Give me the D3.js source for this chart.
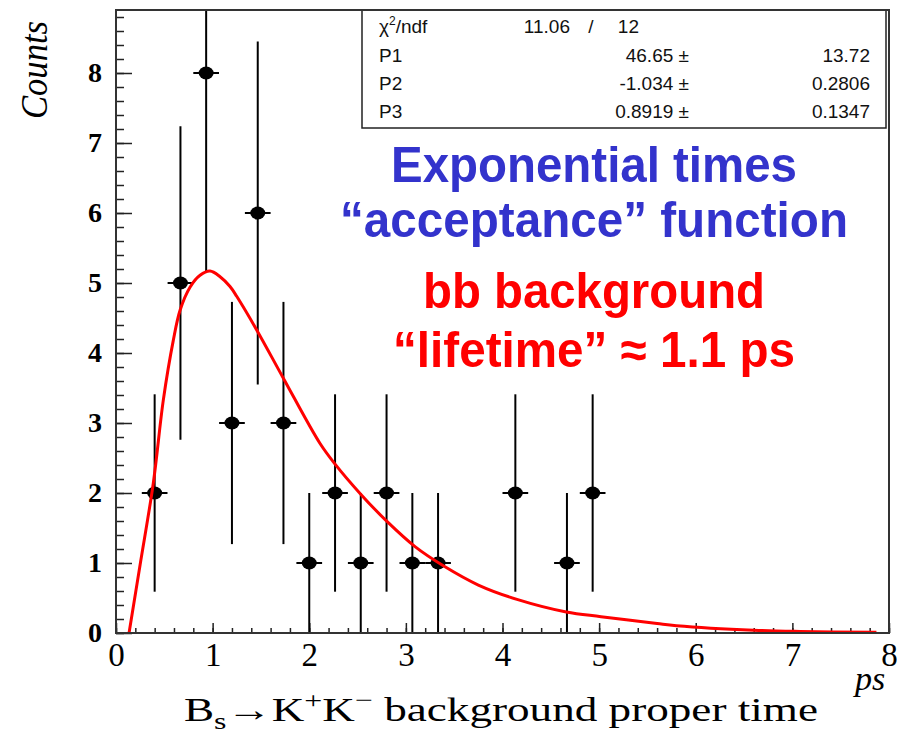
<!DOCTYPE html>
<html>
<head>
<meta charset="utf-8">
<script src="https://cdn.jsdelivr.net/npm/d3@7"></script>
<style>
  html, body { margin: 0; padding: 0; background: #fff; }
</style>
</head>
<body>
<div id="app"></div>
<script>
// DATA
const binCenters  = [0.4, 0.667, 0.933, 1.2, 1.467, 1.733, 2.0, 2.267, 2.533, 2.8, 3.067, 3.333, 4.133, 4.667, 4.933];
const counts      = [2, 5, 8, 3, 6, 3, 1, 2, 1, 2, 1, 1, 2, 1, 2];
const countErrors = [1.41, 2.24, 2.83, 1.73, 2.45, 1.73, 1, 1.41, 1, 1.41, 1, 1, 1.41, 1, 1.41];
const binHalfWidths = [0.133, 0.133, 0.133, 0.133, 0.133, 0.133, 0.133, 0.133, 0.133, 0.133, 0.133, 0.133, 0.133, 0.133, 0.133];

// fit curve
const fitT = [0.135, 0.25, 0.386, 0.49, 0.593, 0.663, 0.766, 0.87, 0.973, 1.077, 1.18, 1.249, 1.456, 1.732, 2.11, 2.263, 2.535, 2.807, 3.098, 3.388, 3.75, 4.15, 4.66, 5.02, 5.6, 5.8, 6.6, 7.08, 7.87];
const fitY = [0, 0.98, 2.14, 3.33, 4.18, 4.61, 4.94, 5.11, 5.17, 5.09, 4.95, 4.81, 4.33, 3.64, 2.71, 2.42, 1.98, 1.59, 1.23, 0.96, 0.685, 0.48, 0.30, 0.233, 0.135, 0.105, 0.04, 0.022, 0.009];

const xTicks = [0, 1, 2, 3, 4, 5, 6, 7, 8];
const yTicks = [0, 1, 2, 3, 4, 5, 6, 7, 8];

const statsRows = [
  { name: 'P1', value: '46.65 \u00b1', error: '13.72' },
  { name: 'P2', value: '-1.034 \u00b1', error: '0.2806' },
  { name: 'P3', value: '0.8919 \u00b1', error: '0.1347' },
];
const chi2 = '11.06', ndf = '12';

// LAYOUT
const W = 897, H = 733;
const frame = { left: 116, right: 889, top: 10, bottom: 633 };

const x = d3.scaleLinear().domain([0, 8]).range([frame.left, frame.right]);
const y = d3.scaleLinear().domain([0, 8.9]).range([frame.bottom, frame.top]);

const $svg = d3.select('#app')
  .append('svg')
  .attr('width', W)
  .attr('height', H)
  .style('font-family', '"Liberation Serif", "Times New Roman", serif');

$svg.append('defs').append('clipPath').attr('id', 'plotClip')
  .append('rect')
  .attr('x', frame.left).attr('y', frame.top)
  .attr('width', frame.right - frame.left)
  .attr('height', frame.bottom - frame.top);

// minor ticks (no labels)
const xMinor = d3.range(0, 8.001, 0.2);
const yMinor = d3.range(0, 8.9, 0.2);

$svg.append('g')
  .attr('transform', `translate(0,${frame.bottom})`)
  .call(d3.axisBottom(x).tickValues(xMinor).tickSize(-5).tickFormat(''))
  .call(g => g.select('.domain').remove())
  .selectAll('line').attr('stroke', '#222').attr('stroke-width', 1.5);

$svg.append('g')
  .attr('transform', `translate(0,${frame.bottom})`)
  .call(d3.axisBottom(x).tickValues(xTicks).tickSize(-10).tickPadding(10).tickFormat(d3.format('d')))
  .call(g => g.select('.domain').remove())
  .call(g => g.selectAll('line').attr('stroke', '#222').attr('stroke-width', 1.5))
  .call(g => g.selectAll('text')
    .attr('font-family', '"Liberation Serif", serif')
    .attr('font-size', 33)
    .attr('fill', '#000'));

$svg.append('g')
  .attr('transform', `translate(${frame.left},0)`)
  .call(d3.axisLeft(y).tickValues(yMinor).tickSize(-8).tickFormat(''))
  .call(g => g.select('.domain').remove())
  .selectAll('line').attr('stroke', '#222').attr('stroke-width', 1.5);

$svg.append('g')
  .attr('transform', `translate(${frame.left},0)`)
  .call(d3.axisLeft(y).tickValues(yTicks).tickSize(-16).tickPadding(14).tickFormat(d3.format('d')))
  .call(g => g.select('.domain').remove())
  .call(g => g.selectAll('line').attr('stroke', '#222').attr('stroke-width', 1.5))
  .call(g => g.selectAll('text')
    .attr('font-family', '"Liberation Serif", serif')
    .attr('font-weight', 'bold')
    .attr('font-size', 28)
    .attr('fill', '#000'));

// stats box
const box = { left: 362, right: 886, top: frame.top, bottom: 128 };
$svg.append('rect')
  .attr('x', box.left).attr('y', box.top)
  .attr('width', box.right - box.left).attr('height', box.bottom - box.top)
  .attr('fill', '#fff').attr('stroke', '#222').attr('stroke-width', 1.5);

const $stats = $svg.append('g')
  .style('font-family', '"Liberation Sans", Arial, sans-serif')
  .style('font-size', '19px')
  .attr('fill', '#111');

const chiRow = $stats.append('text').attr('x', 379).attr('y', 33);
chiRow.append('tspan').text('\u03c7');
chiRow.append('tspan').attr('dy', -8).attr('font-size', 12).text('2');
chiRow.append('tspan').attr('dy', 8).text('/ndf');
$stats.append('text').attr('x', 570).attr('y', 33).attr('text-anchor', 'end').text(chi2);
$stats.append('text').attr('x', 591).attr('y', 33).attr('text-anchor', 'middle').text('/');
$stats.append('text').attr('x', 639).attr('y', 33).attr('text-anchor', 'end').text(ndf);

statsRows.forEach((row, i) => {
  const yy = 61.7 + i * 28.2;
  $stats.append('text').attr('x', 379).attr('y', yy).text(row.name);
  $stats.append('text').attr('x', 689).attr('y', yy).attr('text-anchor', 'end').text(row.value);
  $stats.append('text').attr('x', 870).attr('y', yy).attr('text-anchor', 'end').text(row.error);
});

// data points with error bars
const points = binCenters.map((c, i) => ({ x: c, y: counts[i], ey: countErrors[i], ex: binHalfWidths[i] }));
const $pts = $svg.append('g').attr('clip-path', 'url(#plotClip)');

$pts.selectAll('line.ey')
  .data(points).enter().append('line')
  .attr('class', 'ey')
  .attr('x1', d => x(d.x)).attr('x2', d => x(d.x))
  .attr('y1', d => y(Math.max(0, d.y - d.ey))).attr('y2', d => y(d.y + d.ey))
  .attr('stroke', '#000').attr('stroke-width', 2);

$pts.selectAll('line.ex')
  .data(points).enter().append('line')
  .attr('class', 'ex')
  .attr('x1', d => x(d.x - d.ex)).attr('x2', d => x(d.x + d.ex))
  .attr('y1', d => y(d.y)).attr('y2', d => y(d.y))
  .attr('stroke', '#000').attr('stroke-width', 2);

$pts.selectAll('ellipse')
  .data(points).enter().append('ellipse')
  .attr('cx', d => x(d.x)).attr('cy', d => y(d.y))
  .attr('rx', 7.5).attr('ry', 6.5)
  .attr('fill', '#000');

// fit curve
const fitData = fitT.map((t, i) => [t, fitY[i]]);
$svg.append('path')
  .datum(fitData)
  .attr('clip-path', 'url(#plotClip)')
  .attr('fill', 'none')
  .attr('stroke', '#f00')
  .attr('stroke-width', 3)
  .attr('d', d3.line().x(d => x(d[0])).y(d => y(d[1])).curve(d3.curveCatmullRom.alpha(0.5)));

// frame
$svg.append('rect')
  .attr('x', frame.left).attr('y', frame.top)
  .attr('width', frame.right - frame.left).attr('height', frame.bottom - frame.top)
  .attr('fill', 'none').attr('stroke', '#333').attr('stroke-width', 2);

// annotations
const notes = [
  { text: 'Exponential times', y: 182, len: 406, color: '#3333cc' },
  { text: '\u201cacceptance\u201d function', y: 237, len: 508, color: '#3333cc' },
  { text: 'bb background', y: 308, len: 342, color: '#ff0000' },
  { text: '\u201clifetime\u201d \u2248 1.1 ps', y: 367, len: 402, color: '#ff0000' },
];
$svg.selectAll('text.note')
  .data(notes).enter().append('text')
  .attr('class', 'note')
  .attr('x', 594).attr('y', d => d.y)
  .attr('text-anchor', 'middle')
  .attr('textLength', d => d.len)
  .attr('lengthAdjust', 'spacingAndGlyphs')
  .style('font-family', '"Liberation Sans Narrow", "Liberation Sans", Arial, sans-serif')
  .style('font-weight', 'bold')
  .style('font-size', '50px')
  .attr('fill', d => d.color)
  .text(d => d.text);

// axis titles
$svg.append('text')
  .attr('transform', 'translate(47,70) rotate(-90)')
  .attr('text-anchor', 'middle')
  .style('font-style', 'italic')
  .style('font-size', '38px')
  .attr('textLength', 98)
  .attr('lengthAdjust', 'spacingAndGlyphs')
  .text('Counts');

const xTitle = $svg.append('text')
  .attr('x', 184).attr('y', 721)
  .attr('textLength', 634)
  .attr('lengthAdjust', 'spacingAndGlyphs')
  .style('font-size', '34px');
xTitle.append('tspan').text('B');
xTitle.append('tspan').attr('dy', 8).attr('font-size', 24).text('s');
xTitle.append('tspan').attr('dy', -8).text('\u2192K');
xTitle.append('tspan').attr('dy', -13).attr('font-size', 24).text('+');
xTitle.append('tspan').attr('dy', 13).text('K');
xTitle.append('tspan').attr('dy', -13).attr('font-size', 24).text('\u2212');
xTitle.append('tspan').attr('dy', 13).text(' background proper time');

$svg.append('text')
  .attr('x', 855).attr('y', 690)
  .style('font-style', 'italic')
  .style('font-size', '34px')
  .text('ps');
</script>
</body>
</html>
